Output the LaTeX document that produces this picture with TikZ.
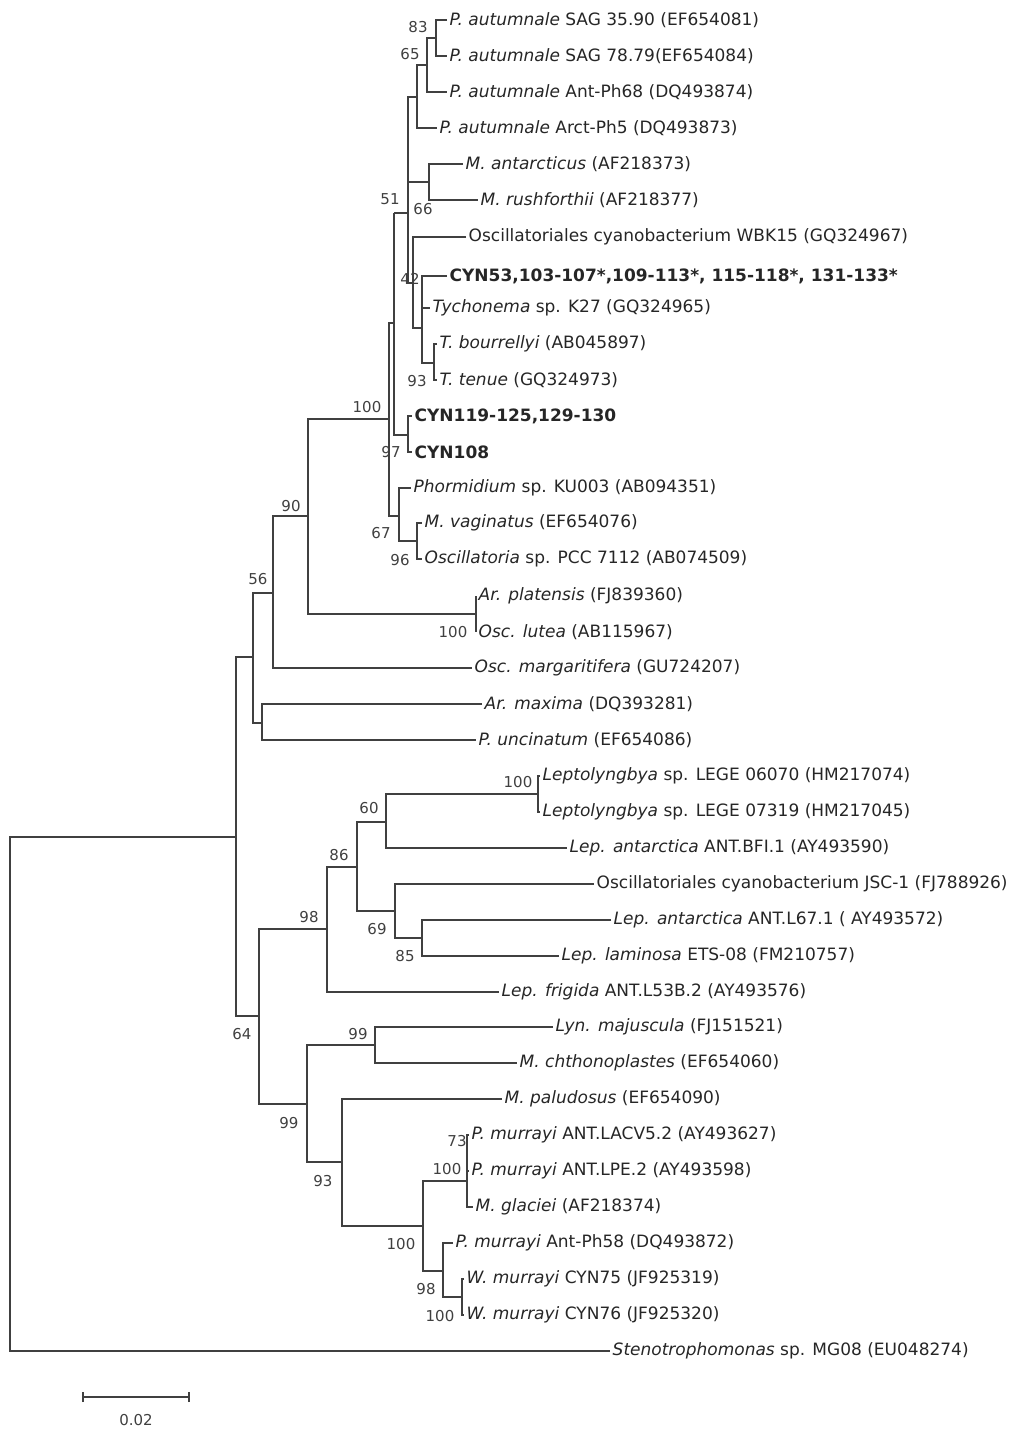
\documentclass[tikz,border=0pt]{standalone}
\usepackage{fontspec}
\setmainfont{DejaVu Sans}
\begin{document}
\begin{tikzpicture}[x=1pt,y=-1pt,
  br/.style={draw=black!75,line width=1.1pt},
  leaf/.style={anchor=west,inner sep=2.5pt,font=\fontsize{17}{19}\selectfont,text=black!85},
  bs/.style={font=\fontsize{15}{17}\selectfont,text=black!75,inner sep=0pt}]
\fill[white] (0,0) rectangle (1024,1438);
\useasboundingbox (0,0) rectangle (1024,1438);
% leaves
\node[leaf] (l1) at (447,20) {\textit{P. autumnale} SAG 35.90 (EF654081)};
\node[leaf] (l2) at (447,56) {\textit{P. autumnale} SAG 78.79(EF654084)};
\node[leaf] (l3) at (447,92) {\textit{P. autumnale} Ant-Ph68 (DQ493874)};
\node[leaf] (l4) at (437,128) {\textit{P. autumnale} Arct-Ph5 (DQ493873)};
\node[leaf] (l5) at (463,164) {\textit{M. antarcticus} (AF218373)};
\node[leaf] (l6) at (478,200) {\textit{M. rushforthii} (AF218377)};
\node[leaf] (l7) at (466,237) {Oscillatoriales cyanobacterium WBK15 (GQ324967)};
\node[leaf] (l8) at (447,276) {\textbf{CYN53,103-107*,109-113*, 115-118*, 131-133*}};
\node[leaf] (l9) at (430,308) {\textit{Tychonema} sp. K27 (GQ324965)};
\node[leaf] (l10) at (437,344) {\textit{T. bourrellyi} (AB045897)};
\node[leaf] (l11) at (437,380) {\textit{T. tenue} (GQ324973)};
\node[leaf] (l12) at (412,416) {\textbf{CYN119-125,129-130}};
\node[leaf] (l13) at (412,452) {\textbf{CYN108}};
\node[leaf] (l14) at (411,488) {\textit{Phormidium} sp. KU003 (AB094351)};
\node[leaf] (l15) at (422,523) {\textit{M. vaginatus} (EF654076)};
\node[leaf] (l16) at (422,559) {\textit{Oscillatoria} sp. PCC 7112 (AB074509)};
\node[leaf] (l17) at (476,596) {\textit{Ar. platensis} (FJ839360)};
\node[leaf] (l18) at (476,632) {\textit{Osc. lutea} (AB115967)};
\node[leaf] (l19) at (472,668) {\textit{Osc. margaritifera} (GU724207)};
\node[leaf] (l20) at (482,704) {\textit{Ar. maxima} (DQ393281)};
\node[leaf] (l21) at (476,740) {\textit{P. uncinatum} (EF654086)};
\node[leaf] (l22) at (540,776) {\textit{Leptolyngbya} sp. LEGE 06070 (HM217074)};
\node[leaf] (l23) at (540,812) {\textit{Leptolyngbya} sp. LEGE 07319 (HM217045)};
\node[leaf] (l24) at (567,848) {\textit{Lep. antarctica} ANT.BFI.1 (AY493590)};
\node[leaf] (l25) at (594,884) {Oscillatoriales cyanobacterium JSC-1 (FJ788926)};
\node[leaf] (l26) at (611,920) {\textit{Lep. antarctica} ANT.L67.1 ( AY493572)};
\node[leaf] (l27) at (559,956) {\textit{Lep. laminosa} ETS-08 (FM210757)};
\node[leaf] (l28) at (499,992) {\textit{Lep. frigida} ANT.L53B.2 (AY493576)};
\node[leaf] (l29) at (553,1027) {\textit{Lyn. majuscula} (FJ151521)};
\node[leaf] (l30) at (517,1063) {\textit{M. chthonoplastes} (EF654060)};
\node[leaf] (l31) at (502,1099) {\textit{M. paludosus} (EF654090)};
\node[leaf] (l32) at (469,1135) {\textit{P. murrayi} ANT.LACV5.2 (AY493627)};
\node[leaf] (l33) at (469,1171) {\textit{P. murrayi} ANT.LPE.2 (AY493598)};
\node[leaf] (l34) at (473,1207) {\textit{M. glaciei} (AF218374)};
\node[leaf] (l35) at (453,1243) {\textit{P. murrayi} Ant-Ph58 (DQ493872)};
\node[leaf] (l36) at (464,1279) {\textit{W. murrayi} CYN75 (JF925319)};
\node[leaf] (l37) at (464,1315) {\textit{W. murrayi} CYN76 (JF925320)};
\node[leaf] (l38) at (610,1351) {\textit{Stenotrophomonas} sp. MG08 (EU048274)};
% branches
\draw[br] (l1.west) -| (436,38) |- (l2.west);
\draw[br] (436,38) -| (427,65) |- (l3.west);
\draw[br] (427,65) -| (417,97) |- (l4.west);
\draw[br] (l5.west) -| (429,182) |- (l6.west);
\draw[br] (l7.west) -| (413,328) -- (422,328);
\draw[br] (l8.west) -| (422,363) -- (434,363);
\draw[br] (422,308) -- (l9.west);
\draw[br] (l10.west) -| (434,363) |- (l11.west);
\draw[br] (417,97) -- (408,97) -- (408,283) -- (413,283);
\draw[br] (408,182) -- (429,182);
\draw[br] (394,213) -- (408,213);
\draw[br] (l12.west) -| (408,434) |- (l13.west);
\draw[br] (394,213) -- (394,435) -- (408,435);
\draw[br] (l15.west) -| (417,541) |- (l16.west);
\draw[br] (l14.west) -| (399,541) -- (417,541);
\draw[br] (394,323) -- (389,323) -- (389,516) -- (399,516);
\draw[br] (l17.west) -| (476,614) |- (l18.west);
\draw[br] (389,419) -| (308,614) -- (476,614);
\draw[br] (308,516) -| (273,668) -- (l19.west);
\draw[br] (l20.west) -| (262,740) -- (l21.west);
\draw[br] (273,593) -| (253,723) -- (262,723);
\draw[br] (l22.west) -| (538,812) -- (l23.west);
\draw[br] (538,794) -| (386,848) -- (l24.west);
\draw[br] (l26.west) -| (422,956) -- (l27.west);
\draw[br] (l25.west) -| (395,938) -- (422,938);
\draw[br] (386,822) -| (357,911) -- (395,911);
\draw[br] (357,867) -| (327,992) -- (l28.west);
\draw[br] (l29.west) -| (375,1063) -- (l30.west);
\draw[br] (l32.west) -| (467,1207) -- (l34.west);
\draw[br] (467,1171) -- (l33.west);
\draw[br] (l36.west) -| (462,1315) -- (l37.west);
\draw[br] (l35.west) -| (443,1297) -- (462,1297);
\draw[br] (467,1181) -| (423,1271) -- (443,1271);
\draw[br] (l31.west) -| (342,1226) -- (423,1226);
\draw[br] (375,1045) -| (307,1162) -- (342,1162);
\draw[br] (327,929) -| (259,1104) -- (307,1104);
\draw[br] (253,657) -- (236,657) -- (236,1016) -- (259,1016);
\draw[br] (236,837) -| (10,1351) -- (l38.west);
% bootstrap values
\node[bs] at (418,27) {83};
\node[bs] at (410,54) {65};
\node[bs] at (390,199) {51};
\node[bs] at (423,209) {66};
\node[bs] at (410,279) {42};
\node[bs] at (417,381) {93};
\node[bs] at (367,407) {100};
\node[bs] at (391,452) {97};
\node[bs] at (381,533) {67};
\node[bs] at (400,560) {96};
\node[bs] at (291,506) {90};
\node[bs] at (258,579) {56};
\node[bs] at (453,632) {100};
\node[bs] at (518,782) {100};
\node[bs] at (369,808) {60};
\node[bs] at (339,855) {86};
\node[bs] at (309,917) {98};
\node[bs] at (377,929) {69};
\node[bs] at (405,956) {85};
\node[bs] at (242,1034) {64};
\node[bs] at (358,1034) {99};
\node[bs] at (289,1123) {99};
\node[bs] at (323,1181) {93};
\node[bs] at (457,1141) {73};
\node[bs] at (447,1169) {100};
\node[bs] at (401,1244) {100};
\node[bs] at (426,1289) {98};
\node[bs] at (440,1316) {100};
% scale bar
\coordinate (s1) at (83,1397);
\coordinate (s2) at (189,1397);
\draw[br] (s1) -- (s2);
\draw[br] ([yshift=-5]s1) -- ([yshift=5]s1);
\draw[br] ([yshift=-5]s2) -- ([yshift=5]s2);
\node[bs] (sl) at (136,1420) {0.02};
\end{tikzpicture}
\end{document}
